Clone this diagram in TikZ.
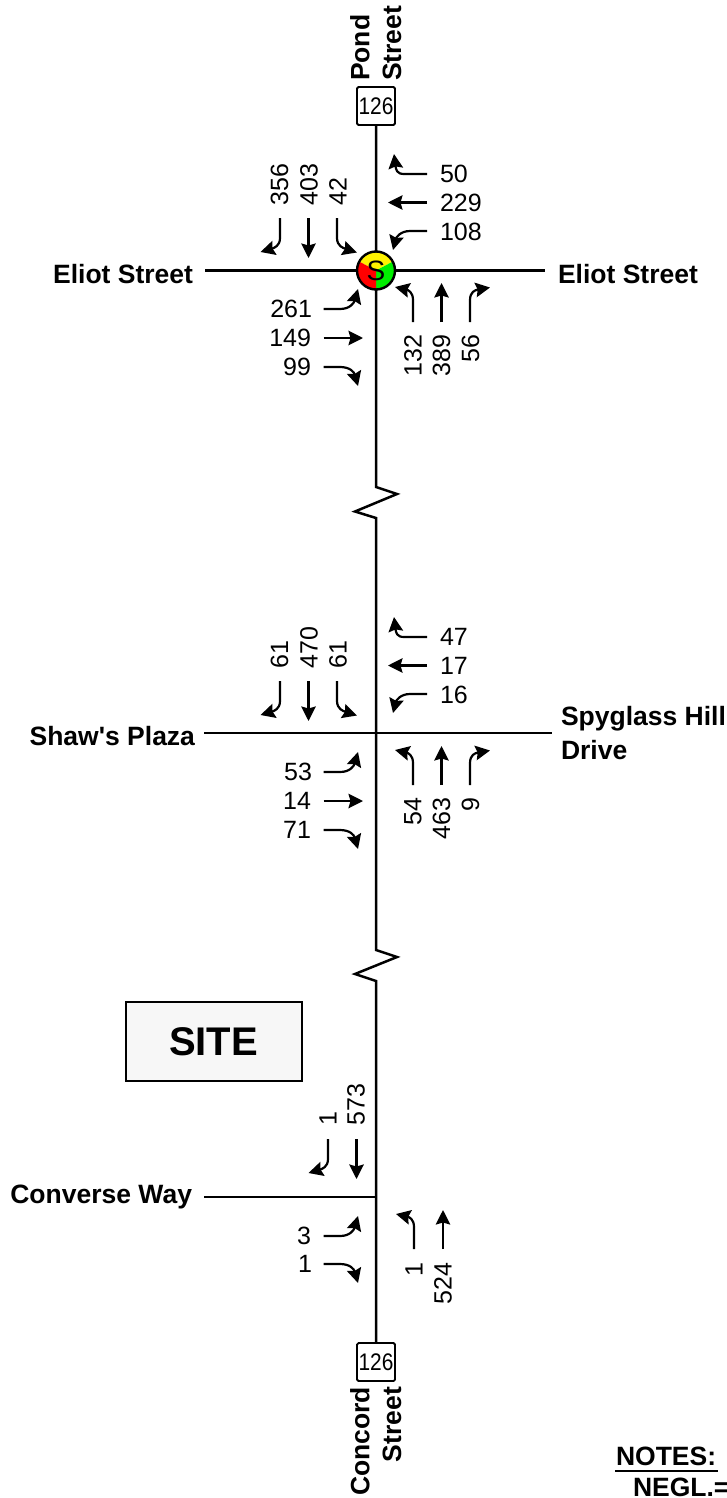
\documentclass[tikz,border=0pt]{standalone}
\usepackage{fontspec}
\usepackage{graphicx}
\newfontfamily\labelfont{Liberation Sans}
\usetikzlibrary{arrows.meta}
\definecolor{siggreen}{RGB}{0,238,0}
\tikzset{
  road/.style={line width=2.5pt,black,line join=miter},
  mv/.style={line width=2.2pt,black,-{Stealth[length=14.5pt,width=14.5pt,inset=2pt]}},
  num/.style={font=\fontsize{25}{27}\selectfont\labelfont,inner sep=0pt,outer sep=0pt},
  numup/.style={num,rotate=90},
  street/.style={font=\fontsize{26.5}{28}\selectfont\labelfont\bfseries,inner sep=0pt,outer sep=0pt},
  streetup/.style={street,rotate=90},
  shield/.style={draw=black,line width=1.8pt,fill=white,rounded corners=1.5pt,minimum width=38pt,minimum height=38pt,inner sep=0pt,font=\fontsize{24}{26}\selectfont\labelfont},
}
% movement arrows: id, dx, dy
\newcommand{\mvWbRight}[3]{\coordinate (#1s) at (427+#2,174+#3);\coordinate (#1e) at (394+#2,154+#3);
 \draw[mv] (#1s) -- (404+#2,174+#3) .. controls (397+#2,174+#3) and (396+#2,170+#3) .. (#1e);}
\newcommand{\mvWbThru}[3]{\coordinate (#1s) at (427+#2,202.5+#3);\coordinate (#1e) at (388+#2,202.5+#3);\draw[mv] (#1s) -- (#1e);}
\newcommand{\mvWbLeft}[3]{\coordinate (#1s) at (427+#2,231+#3);\coordinate (#1e) at (393+#2,250+#3);
 \draw[mv] (#1s) -- (410+#2,231+#3) .. controls (400+#2,231+#3) and (396+#2,238+#3) .. (#1e);}
\newcommand{\mvSbRight}[3]{\coordinate (#1s) at (280+#2,218+#3);\coordinate (#1e) at (260.5+#2,252+#3);
 \draw[mv] (#1s) -- (280+#2,238+#3) .. controls (280+#2,246+#3) and (274+#2,248+#3) .. (#1e);}
\newcommand{\mvSbThru}[3]{\coordinate (#1s) at (308.5+#2,218+#3);\coordinate (#1e) at (308.5+#2,258+#3);\draw[mv] (#1s) -- (#1e);}
\newcommand{\mvSbLeft}[3]{\coordinate (#1s) at (337+#2,218+#3);\coordinate (#1e) at (357+#2,252.5+#3);
 \draw[mv] (#1s) -- (337+#2,238+#3) .. controls (337+#2,246+#3) and (343+#2,248+#3) .. (#1e);}
\newcommand{\mvEbLeft}[3]{\coordinate (#1s) at (323.5+#2,309+#3);\coordinate (#1e) at (358+#2,289+#3);
 \draw[mv] (#1s) -- (340+#2,309+#3) .. controls (350+#2,309+#3) and (354+#2,303+#3) .. (#1e);}
\newcommand{\mvEbThru}[3]{\coordinate (#1s) at (323.5+#2,338+#3);\coordinate (#1e) at (363+#2,338+#3);\draw[mv] (#1s) -- (#1e);}
\newcommand{\mvEbRight}[3]{\coordinate (#1s) at (323.5+#2,367+#3);\coordinate (#1e) at (358+#2,386+#3);
 \draw[mv] (#1s) -- (340+#2,367+#3) .. controls (350+#2,367+#3) and (354+#2,372+#3) .. (#1e);}
\newcommand{\mvNbLeft}[3]{\coordinate (#1s) at (413+#2,322+#3);\coordinate (#1e) at (395+#2,287+#3);
 \draw[mv] (#1s) -- (413+#2,300+#3) .. controls (413+#2,292+#3) and (408+#2,290+#3) .. (#1e);}
\newcommand{\mvNbThru}[3]{\coordinate (#1s) at (441.5+#2,322+#3);\coordinate (#1e) at (441.5+#2,283+#3);\draw[mv] (#1s) -- (#1e);}
\newcommand{\mvNbRight}[3]{\coordinate (#1s) at (470+#2,322+#3);\coordinate (#1e) at (490+#2,287.5+#3);
 \draw[mv] (#1s) -- (470+#2,300+#3) .. controls (470+#2,292+#3) and (475+#2,290+#3) .. (#1e);}
\begin{document}
\begin{tikzpicture}[x=1pt,y=-1pt]
\useasboundingbox (0,0) rectangle (727,1498);
\clip (0,0) rectangle (727,1498);
% shields
\node[shield] (shN) at (376,106) {\scalebox{0.87}[1]{126}};
\node[shield] (shS) at (376,1362) {\scalebox{0.87}[1]{126}};
% coordinates of the main road
\coordinate (zaT) at (376,487);
\coordinate (zaR) at (397,494);
\coordinate (zaL) at (355,511.5);
\coordinate (zaB) at (376,518);
\coordinate (zbT) at (376,950);
\coordinate (zbR) at (397,957);
\coordinate (zbL) at (355,974);
\coordinate (zbB) at (376,981);
\coordinate (c1) at (376,270.5);
\coordinate (c2) at (376,733);
\coordinate (c3) at (376,1197);
\coordinate (eW) at (205,270.5);
\coordinate (eE) at (545,270.5);
\coordinate (sW) at (204,733);
\coordinate (sE) at (552,733);
\coordinate (cW) at (204,1197);
\draw[road] (shN.south) -- (c1) -- (zaT) -- (zaR) -- (zaL) -- (zaB) -- (c2) -- (zbT) -- (zbR) -- (zbL) -- (zbB) -- (c3) -- (shS.north);
\draw[road] (eW) -- (eE);
\draw[road] (sW) -- (sE);
\draw[road] (cW) -- (c3);
% signal
\fill[yellow] (c1) -- ++(-28:19) arc[start angle=-28,end angle=-152,radius=19] -- cycle;
\fill[siggreen] (c1) -- (376,289.5) arc[start angle=90,end angle=-28,radius=19] -- cycle;
\fill[red] (c1) -- (376,289.5) arc[start angle=90,end angle=208,radius=19] -- cycle;
\node[circle,draw=black,line width=2.4pt,minimum size=38pt,inner sep=0pt,font=\fontsize{28}{30}\selectfont\labelfont] (signal) at (c1) {S};
% street names
\node[streetup,anchor=west] (pond) at (360,81) {Pond};
\node[streetup,anchor=west] (pondst) at (392,81) {Street};
\node[streetup,anchor=east] (concord) at (360,1387) {Concord};
\node[streetup,anchor=east] (concordst) at (392,1387) {Street};
\node[street,anchor=east] (eliotW) at (193,274) {Eliot Street};
\node[street,anchor=west] (eliotE) at (558,274) {Eliot Street};
\node[street,anchor=east] (shaw) at (195,736) {Shaw's Plaza};
\node[street,anchor=west] (spy) at (561,719) {Spyglass Hill};
\node[street,anchor=west] (drive) at (561,750) {Drive};
\node[street,anchor=east] (conv) at (192,1197) {Converse Way};
\node[draw=black,line width=2pt,fill=black!3,minimum width=176pt,minimum height=79pt,inner sep=0pt,font=\fontsize{40}{42}\selectfont\labelfont\bfseries] (site) at (213.5,1041.5) {SITE};
\node[street,anchor=west] (notes) at (616,1456.5) {NOTES:};
\coordinate (nl) at (615,1471);\coordinate (nr) at (717.5,1471);
\draw[line width=1.8pt] (nl) -- (nr);
\node[street,anchor=west] (negl) at (633,1487.5) {NEGL.=};
% Eliot / Pond
\mvWbRight{a1}{0}{0}\mvWbThru{a2}{0}{0}\mvWbLeft{a3}{0}{0}
\mvSbRight{a4}{0}{0}\mvSbThru{a5}{0}{0}\mvSbLeft{a6}{0}{0}
\mvEbLeft{a7}{0}{0}\mvEbThru{a8}{0}{0}\mvEbRight{a9}{0}{0}
\mvNbLeft{a10}{0}{0}\mvNbThru{a11}{0}{0}\mvNbRight{a12}{0}{0}
\node[num,anchor=west] (n1) at (440,174) {50};
\node[num,anchor=west] (n2) at (440,203) {229};
\node[num,anchor=west] (n3) at (440,231.5) {108};
\node[numup,anchor=west] (n4) at (279.5,205) {356};
\node[numup,anchor=west] (n5) at (309,205) {403};
\node[numup,anchor=west] (n6) at (338,205) {42};
\node[num,anchor=east] (n7) at (312,309) {261};
\node[num,anchor=east] (n8) at (311,338) {149};
\node[num,anchor=east] (n9) at (311,367) {99};
\node[numup,anchor=east] (n10) at (413,335) {132};
\node[numup,anchor=east] (n11) at (441.5,335) {389};
\node[numup,anchor=east] (n12) at (470.5,335) {56};
% Shaw's / Spyglass
\mvWbRight{b1}{0}{463}\mvWbThru{b2}{0}{463}\mvWbLeft{b3}{0}{463}
\mvSbRight{b4}{0}{463}\mvSbThru{b5}{0}{463}\mvSbLeft{b6}{0}{463}
\mvEbLeft{b7}{0}{463}\mvEbThru{b8}{0}{463}\mvEbRight{b9}{0}{463}
\mvNbLeft{b10}{0}{463}\mvNbThru{b11}{0}{463}\mvNbRight{b12}{0}{463}
\node[num,anchor=west] (m1) at (440,637) {47};
\node[num,anchor=west] (m2) at (440,666) {17};
\node[num,anchor=west] (m3) at (440,694.5) {16};
\node[numup,anchor=west] (m4) at (279.5,668) {61};
\node[numup,anchor=west] (m5) at (309,668) {470};
\node[numup,anchor=west] (m6) at (338,668) {61};
\node[num,anchor=east] (m7) at (312,772) {53};
\node[num,anchor=east] (m8) at (311,801) {14};
\node[num,anchor=east] (m9) at (311,830) {71};
\node[numup,anchor=east] (m10) at (413,798) {54};
\node[numup,anchor=east] (m11) at (441.5,798) {463};
\node[numup,anchor=east] (m12) at (470.5,798) {9};
% Converse
\mvSbRight{c4}{48}{921}\mvSbThru{c5}{48}{921}
\mvEbLeft{c7}{0}{927}\mvEbRight{c9}{0}{897}
\mvNbLeft{c10}{1}{927}\mvNbThru{c11}{1.5}{927}
\node[numup,anchor=west] (k4) at (328,1125) {1};
\node[numup,anchor=west] (k5) at (356,1125) {573};
\node[num,anchor=east] (k7) at (311,1235.5) {3};
\node[num,anchor=east] (k9) at (312,1264) {1};
\node[numup,anchor=east] (k10) at (414,1263) {1};
\node[numup,anchor=east] (k11) at (443,1263) {524};
\end{tikzpicture}
\end{document}
